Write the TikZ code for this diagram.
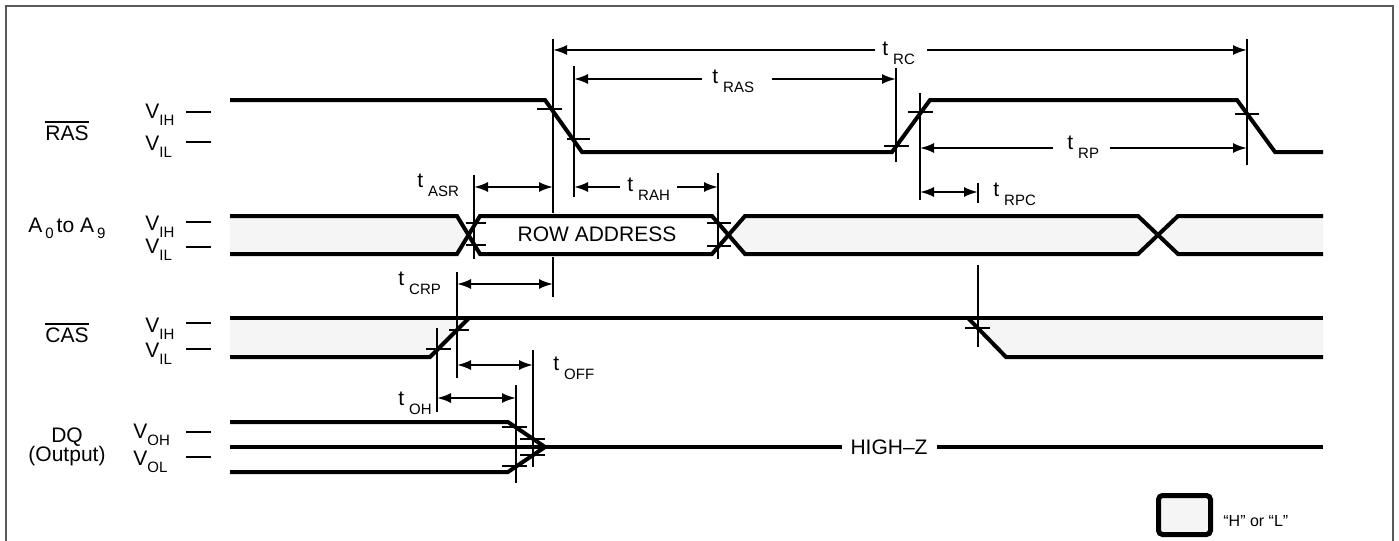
\documentclass[tikz,border=0pt]{standalone}
\usepackage{fontspec}
\setmainfont{Liberation Sans}
\usetikzlibrary{arrows.meta}
\tikzset{>={Latex[length=7pt,width=5pt]}}
\definecolor{hlfill}{gray}{0.96}
\definecolor{framegray}{gray}{0.35}
\newcommand{\vlvl}[2]{#1\raisebox{-3.5pt}{\fontsize{7.5}{8}\selectfont #2}}
\newcommand{\tpar}[1]{t\hspace{2.5pt}\raisebox{-4.5pt}{\fontsize{7.5}{8}\selectfont #1}}

\begin{document}
\begin{tikzpicture}[x=0.5pt,y=-0.5pt,
	every node/.style={inner sep=0pt,font=\fontsize{10.5}{12}\selectfont},
	sig/.style={line width=2pt},
	dimline/.style={line width=1pt},
	levdash/.style={line width=1.2pt}]
	\useasboundingbox (0,0) rectangle (1399,541);
	\draw[framegray, line width=1pt] (6,545) -- (6,6) -- (1393,6) -- (1393,545);

	% "H" or "L" areas
	\fill[hlfill] (230,216) -- (457,216) -- (468.5,235) -- (457,254) -- (230,254) -- cycle;
	\fill[hlfill] (728.5,235) -- (745,216) -- (1138,216) -- (1158,235) -- (1138,254) -- (745,254) -- cycle;
	\fill[hlfill] (1158,235) -- (1178,216) -- (1323,216) -- (1323,254) -- (1178,254) -- cycle;
	\fill[hlfill] (230,318) -- (469,318) -- (430,357) -- (230,357) -- cycle;
	\fill[hlfill] (968,318) -- (1323,318) -- (1323,357) -- (1006,357) -- cycle;

	% reference lines
	\draw[dimline] (553,39) -- (553,213);
	\draw[dimline] (553,257) -- (553,297);
	\draw[dimline] (574,66) -- (574,197);
	\draw[dimline] (896,68) -- (896,162);
	\draw[dimline] (920,93) -- (920,200);
	\draw[dimline] (1247,39) -- (1247,165);
	\draw[dimline] (474,175) -- (474,259);
	\draw[dimline] (718,173) -- (718,259);
	\draw[dimline] (978,183) -- (978,203);
	\draw[dimline] (978,265) -- (978,347);
	\draw[dimline] (457,272) -- (457,378);
	\draw[dimline] (437,328) -- (437,412);
	\draw[dimline] (533,350) -- (533,467);
	\draw[dimline] (516,385) -- (516,483);

	% signals
	\draw[sig] (230,100) -- (545,100) -- (582,152) -- (892,152) -- (930,100) -- (1237,100) -- (1275,152) -- (1323,152);
	\draw[sig] (230,216) -- (457,216) -- (480,254) -- (712,254) -- (745,216) -- (1138,216) -- (1178,254) -- (1323,254);
	\draw[sig] (230,254) -- (457,254) -- (480,216) -- (712,216) -- (745,254) -- (1138,254) -- (1178,216) -- (1323,216);
	\draw[sig] (230,318) -- (1323,318);
	\draw[sig] (230,357) -- (430,357) -- (469,318);
	\draw[sig] (968,318) -- (1006,357) -- (1323,357);
	\draw[sig] (230,422) -- (508,422) -- (545,447);
	\draw[sig] (230,472) -- (508,472) -- (545,447);
	\draw[sig] (230,447) -- (842,447);
	\draw[sig] (937,447) -- (1323,447);

	% ticks
	\draw[dimline] (537,109) -- (562,109);
	\draw[dimline] (567,139) -- (590,139);
	\draw[dimline] (884,146) -- (909,146);
	\draw[dimline] (908,112) -- (933,112);
	\draw[dimline] (1235,114) -- (1259,114);
	\draw[dimline] (466,223) -- (486,223);
	\draw[dimline] (466,245) -- (486,245);
	\draw[dimline] (707,223) -- (731,223);
	\draw[dimline] (707,246) -- (731,246);
	\draw[dimline] (449,330) -- (469,330);
	\draw[dimline] (426,349) -- (451,349);
	\draw[dimline] (965,328) -- (990,328);
	\draw[dimline] (502,427) -- (527,427);
	\draw[dimline] (502,466) -- (527,466);
	\draw[dimline] (520,439) -- (545,439);
	\draw[dimline] (520,455) -- (545,455);

	% timing arrows
	\draw[dimline][<-] (553,50) -- (875,50);
	\draw[dimline][->] (927,50) -- (1247,50);
	\draw[dimline][<-] (574,79) -- (702,79);
	\draw[dimline][->] (772,79) -- (896,79);
	\draw[dimline][<-] (920,148) -- (1053,148);
	\draw[dimline][->] (1110,148) -- (1247,148);
	\draw[dimline][<->] (474,187) -- (553,187);
	\draw[dimline][<-] (574,187) -- (620,187);
	\draw[dimline][->] (677,187) -- (718,187);
	\draw[dimline][<->] (920,192) -- (978,192);
	\draw[dimline][<->] (457,284) -- (553,284);
	\draw[dimline][<->] (457,365) -- (533,365);
	\draw[dimline][<->] (437,398) -- (516,398);

	\node[anchor=base west] (trc) at (882,55) {\tpar{RC}};
	\node[anchor=base west] (tras) at (712,83) {\tpar{RAS}};
	\node[anchor=base west] (trp) at (1067,149) {\tpar{RP}};
	\node[anchor=base west] (tasr) at (417,187) {\tpar{ASR}};
	\node[anchor=base west] (trah) at (627,191) {\tpar{RAH}};
	\node[anchor=base west] (trpc) at (993,196) {\tpar{RPC}};
	\node[anchor=base west] (tcrp) at (398,285) {\tpar{CRP}};
	\node[anchor=base west] (toff) at (553,370) {\tpar{OFF}};
	\node[anchor=base west] (toh) at (398,405) {\tpar{OH}};

	\node (rowaddr) at (597,234) {ROW ADDRESS};
	\node (highz) at (889,447) {HIGH--Z};

	% signal names and levels
	\node[anchor=base west] (rasname) at (45,140) {RAS};
	\draw[line width=0.8pt] ([yshift=1.6pt]rasname.north west) -- ([yshift=1.6pt]rasname.north east);
	\node[anchor=base west] (addrname) at (28,232) {A\hspace{1.5pt}\raisebox{-3pt}{\fontsize{7.5}{8}\selectfont 0}\hspace{1.5pt}to A\hspace{1.5pt}\raisebox{-3pt}{\fontsize{7.5}{8}\selectfont 9}};
	\node[anchor=base west] (casname) at (45,342) {CAS};
	\draw[line width=0.8pt] ([yshift=1.6pt]casname.north west) -- ([yshift=1.6pt]casname.north east);
	\node[anchor=base] (dqname) at (67,442) {DQ};
	\node[anchor=base] (dqout) at (67,461) {(Output)};

	\node[anchor=base west] (rasvih) at (145,118) {\vlvl{V}{IH}};
	\node[anchor=base west] (rasvil) at (145,150) {\vlvl{V}{IL}};
	\node[anchor=base west] (addrvih) at (145,230) {\vlvl{V}{IH}};
	\node[anchor=base west] (addrvil) at (145,253) {\vlvl{V}{IL}};
	\node[anchor=base west] (casvih) at (145,332) {\vlvl{V}{IH}};
	\node[anchor=base west] (casvil) at (145,357) {\vlvl{V}{IL}};
	\node[anchor=base west] (dqvoh) at (133,438) {\vlvl{V}{OH}};
	\node[anchor=base west] (dqvol) at (133,465) {\vlvl{V}{OL}};

	\draw[levdash] (186,112) -- (211,112);
	\draw[levdash] (186,142) -- (211,142);
	\draw[levdash] (186,222) -- (211,222);
	\draw[levdash] (186,247) -- (211,247);
	\draw[levdash] (186,323) -- (211,323);
	\draw[levdash] (186,349) -- (211,349);
	\draw[levdash] (186,432) -- (211,432);
	\draw[levdash] (186,457) -- (211,457);

	% legend
	\draw[line width=2.5pt, rounded corners=2pt, fill=hlfill] (1158.5,495.5) rectangle (1210.5,534.5);
	\node[anchor=base west, font=\fontsize{8}{9}\selectfont] (legtext) at (1223,526) {“H” or “L”};
\end{tikzpicture}
\end{document}
